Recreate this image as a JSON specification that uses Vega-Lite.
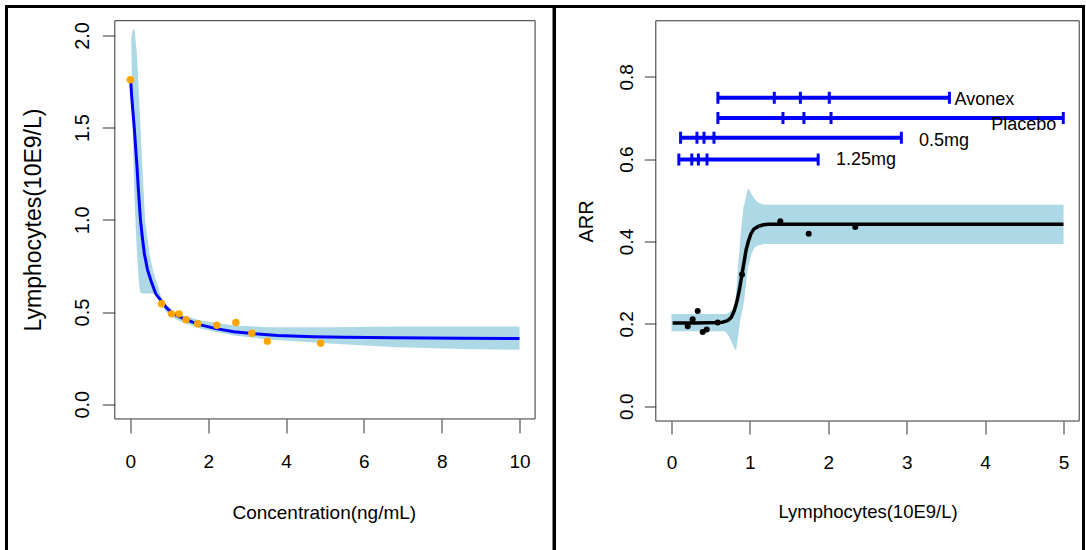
{
  "$schema": "https://vega.github.io/schema/vega-lite/v6.json",
  "padding": {"left": 4.5, "top": 4.5, "right": 0, "bottom": 0},
  "background": "white",
  "datasets": {
    "leftCurve": [
      {"x": 0.01, "y": 1.75}, {"x": 0.03, "y": 1.68}, {"x": 0.06, "y": 1.6}, {"x": 0.1, "y": 1.5},
      {"x": 0.14, "y": 1.38}, {"x": 0.17, "y": 1.29}, {"x": 0.21, "y": 1.15}, {"x": 0.26, "y": 1.0},
      {"x": 0.31, "y": 0.9}, {"x": 0.36, "y": 0.816}, {"x": 0.44, "y": 0.73}, {"x": 0.53, "y": 0.67},
      {"x": 0.65, "y": 0.6}, {"x": 0.79, "y": 0.56}, {"x": 0.92, "y": 0.525}, {"x": 1.05, "y": 0.5},
      {"x": 1.2, "y": 0.48}, {"x": 1.4, "y": 0.462}, {"x": 1.6, "y": 0.445}, {"x": 1.8, "y": 0.43},
      {"x": 2.2, "y": 0.41}, {"x": 2.66, "y": 0.393}, {"x": 3.2, "y": 0.382}, {"x": 3.78, "y": 0.373},
      {"x": 4.71, "y": 0.366}, {"x": 5.5, "y": 0.363}, {"x": 6.77, "y": 0.36}, {"x": 8.5, "y": 0.358},
      {"x": 10, "y": 0.356}
    ],
    "leftBand": [
      {"x": 0.025, "y": 1.95, "y2": 1.99}, {"x": 0.05, "y": 1.6, "y2": 2.02}, {"x": 0.08, "y": 1.3, "y2": 2.035},
      {"x": 0.11, "y": 1.1, "y2": 2.03}, {"x": 0.14, "y": 0.95, "y2": 1.96}, {"x": 0.17, "y": 0.82, "y2": 1.9},
      {"x": 0.21, "y": 0.68, "y2": 1.72}, {"x": 0.25, "y": 0.61, "y2": 1.55}, {"x": 0.3, "y": 0.6, "y2": 1.32},
      {"x": 0.38, "y": 0.6, "y2": 1.0}, {"x": 0.49, "y": 0.6, "y2": 0.816}, {"x": 0.6, "y": 0.6, "y2": 0.71},
      {"x": 0.68, "y": 0.59, "y2": 0.66}, {"x": 0.79, "y": 0.545, "y2": 0.58}, {"x": 0.87, "y": 0.515, "y2": 0.56},
      {"x": 0.96, "y": 0.49, "y2": 0.53}, {"x": 1.13, "y": 0.465, "y2": 0.5}, {"x": 1.38, "y": 0.44, "y2": 0.48},
      {"x": 1.81, "y": 0.409, "y2": 0.454}, {"x": 2.67, "y": 0.373, "y2": 0.427}, {"x": 3.52, "y": 0.351, "y2": 0.418},
      {"x": 5.23, "y": 0.328, "y2": 0.418}, {"x": 6.85, "y": 0.309, "y2": 0.421}, {"x": 8.5, "y": 0.3, "y2": 0.421},
      {"x": 10, "y": 0.295, "y2": 0.421}
    ],
    "leftPts": [
      {"x": 0.0, "y": 1.76}, {"x": 0.8, "y": 0.545}, {"x": 1.06, "y": 0.49}, {"x": 1.25, "y": 0.49},
      {"x": 1.43, "y": 0.458}, {"x": 1.73, "y": 0.436}, {"x": 2.22, "y": 0.428}, {"x": 2.71, "y": 0.443},
      {"x": 3.12, "y": 0.385}, {"x": 3.52, "y": 0.342}, {"x": 4.89, "y": 0.331}
    ],
    "leftBox": [{"x": -0.4, "x2": 10.4, "y": -0.08, "y2": 2.08}],
    "rightCurve": [
      {"x": 0.015, "y": 0.202}, {"x": 0.3, "y": 0.202}, {"x": 0.589, "y": 0.203}, {"x": 0.65, "y": 0.204},
      {"x": 0.717, "y": 0.208}, {"x": 0.76, "y": 0.215}, {"x": 0.801, "y": 0.232}, {"x": 0.835, "y": 0.255},
      {"x": 0.865, "y": 0.281}, {"x": 0.89, "y": 0.31}, {"x": 0.908, "y": 0.33}, {"x": 0.93, "y": 0.355},
      {"x": 0.95, "y": 0.378}, {"x": 0.98, "y": 0.4}, {"x": 1.014, "y": 0.419}, {"x": 1.05, "y": 0.43},
      {"x": 1.1, "y": 0.436}, {"x": 1.16, "y": 0.44}, {"x": 1.227, "y": 0.442}, {"x": 2.0, "y": 0.442},
      {"x": 5.0, "y": 0.442}
    ],
    "rightBand": [
      {"x": 0.0, "y": 0.182, "y2": 0.224}, {"x": 0.674, "y": 0.182, "y2": 0.224}, {"x": 0.717, "y": 0.175, "y2": 0.225},
      {"x": 0.737, "y": 0.168, "y2": 0.228}, {"x": 0.78, "y": 0.15, "y2": 0.235}, {"x": 0.814, "y": 0.137, "y2": 0.249},
      {"x": 0.823, "y": 0.135, "y2": 0.27}, {"x": 0.844, "y": 0.16, "y2": 0.33}, {"x": 0.865, "y": 0.192, "y2": 0.375},
      {"x": 0.878, "y": 0.21, "y2": 0.41}, {"x": 0.92, "y": 0.249, "y2": 0.487}, {"x": 0.929, "y": 0.26, "y2": 0.49},
      {"x": 0.97, "y": 0.33, "y2": 0.525}, {"x": 0.985, "y": 0.345, "y2": 0.528}, {"x": 1.02, "y": 0.37, "y2": 0.515},
      {"x": 1.06, "y": 0.385, "y2": 0.503}, {"x": 1.1, "y": 0.39, "y2": 0.495}, {"x": 1.18, "y": 0.394, "y2": 0.489},
      {"x": 5.0, "y": 0.394, "y2": 0.489}
    ],
    "rightPts": [
      {"x": 0.207, "y": 0.194}, {"x": 0.27, "y": 0.211}, {"x": 0.334, "y": 0.231}, {"x": 0.398, "y": 0.18},
      {"x": 0.449, "y": 0.186}, {"x": 0.589, "y": 0.203}, {"x": 0.9, "y": 0.32}, {"x": 1.388, "y": 0.449},
      {"x": 1.75, "y": 0.419}, {"x": 2.344, "y": 0.435}
    ],
    "rightInt": [
      {"name": "Avonex", "x": 0.592, "x2": 3.545, "y": 0.749},
      {"name": "Placebo", "x": 0.592, "x2": 4.997, "y": 0.7},
      {"name": "0.5mg", "x": 0.116, "x2": 2.932, "y": 0.652},
      {"name": "1.25mg", "x": 0.094, "x2": 1.871, "y": 0.599}
    ],
    "rightTicks": [
      {"x": 0.592, "y": 0.749}, {"x": 1.311, "y": 0.749}, {"x": 1.644, "y": 0.749}, {"x": 2.013, "y": 0.749}, {"x": 3.545, "y": 0.749},
      {"x": 0.592, "y": 0.7}, {"x": 1.422, "y": 0.7}, {"x": 1.689, "y": 0.7}, {"x": 2.035, "y": 0.7}, {"x": 4.997, "y": 0.7},
      {"x": 0.116, "y": 0.652}, {"x": 0.325, "y": 0.652}, {"x": 0.415, "y": 0.652}, {"x": 0.542, "y": 0.652}, {"x": 2.932, "y": 0.652},
      {"x": 0.094, "y": 0.599}, {"x": 0.259, "y": 0.599}, {"x": 0.343, "y": 0.599}, {"x": 0.453, "y": 0.599}, {"x": 1.871, "y": 0.599}
    ],
    "rightLabels": [
      {"label": "Avonex", "x": 3.611, "y": 0.744, "side": "left"},
      {"label": "Placebo", "x": 4.908, "y": 0.682, "side": "right"},
      {"label": "0.5mg", "x": 3.158, "y": 0.645, "side": "left"},
      {"label": "1.25mg", "x": 2.097, "y": 0.599, "side": "left"}
    ],
    "rightBox": [{"x": -0.2, "x2": 5.2, "y": -0.036, "y2": 0.936}]
  },
  "hconcat": [
    {
      "width": 547.5,
      "height": 550,
      "encoding": {
        "x": {"field": "x", "type": "quantitative",
          "scale": {"domain": [-3.183, 10.886], "nice": false, "zero": false},
          "axis": {"orient": "bottom", "offset": -137.6, "values": [0, 2, 4, 6, 8, 10], "tickSize": 14,
            "labelPadding": 19.5, "labelFontSize": 19, "labelFlush": false, "labelOverlap": false,
            "title": "Concentration(ng/mL)", "titleFontSize": 19, "titleX": 317.3, "titleY": 99.5,
            "titleBaseline": "alphabetic", "titleAlign": "center"}},
        "y": {"field": "y", "type": "quantitative",
          "scale": {"domain": [-0.826, 2.157], "nice": false, "zero": false},
          "axis": {"orient": "left", "offset": -108.3, "values": [0, 0.5, 1, 1.5, 2], "format": ".1f", "tickSize": 12.5,
            "labelPadding": 13.4, "labelFontSize": 20, "labelAngle": -90, "labelAlign": "center", "labelBaseline": "alphabetic",
            "labelFlush": false, "labelOverlap": false,
            "title": "Lymphocytes(10E9/L)", "titleFontSize": 23, "titleAngle": -90, "titleX": -74.3, "titleY": 213,
            "titleBaseline": "alphabetic", "titleAlign": "center"}}
      },
      "layer": [
        {"data": {"name": "leftBand"}, "mark": {"type": "area", "color": "#ADD8E6", "opacity": 1},
          "encoding": {"y2": {"field": "y2"}}},
        {"data": {"name": "leftCurve"}, "mark": {"type": "line", "color": "#0000FF", "strokeWidth": 3}},
        {"data": {"name": "leftPts"}, "mark": {"type": "circle", "color": "#FFA500", "size": 55, "opacity": 1}},
        {"data": {"name": "leftBox"}, "mark": {"type": "rect", "filled": false, "color": "#333", "strokeWidth": 1, "opacity": 1},
          "encoding": {"x2": {"field": "x2"}, "y2": {"field": "y2"}}}
      ]
    },
    {
      "width": 529,
      "height": 550,
      "encoding": {
        "x": {"field": "x", "type": "quantitative",
          "scale": {"domain": [-1.492, 5.255], "nice": false, "zero": false},
          "axis": {"orient": "bottom", "offset": -135.5, "values": [0, 1, 2, 3, 4, 5], "tickSize": 13,
            "labelPadding": 19, "labelFontSize": 19, "labelFlush": false, "labelOverlap": false,
            "title": "Lymphocytes(10E9/L)", "titleFontSize": 18.5, "titleX": 313, "titleY": 96.2,
            "titleBaseline": "alphabetic", "titleAlign": "center"}},
        "y": {"field": "y", "type": "quantitative",
          "scale": {"domain": [-0.365, 0.9707], "nice": false, "zero": false},
          "axis": {"orient": "left", "offset": -101.3, "values": [0, 0.2, 0.4, 0.6, 0.8], "format": ".1f", "tickSize": 11.5,
            "labelPadding": 11.6, "labelFontSize": 19, "labelAngle": -90, "labelAlign": "center", "labelBaseline": "alphabetic",
            "labelFlush": false, "labelOverlap": false,
            "title": "ARR", "titleFontSize": 20, "titleAngle": -90, "titleX": -63.1, "titleY": 214.4,
            "titleBaseline": "alphabetic", "titleAlign": "center"}}
      },
      "layer": [
        {"data": {"name": "rightBand"}, "mark": {"type": "area", "color": "#ADD8E6", "opacity": 1},
          "encoding": {"y2": {"field": "y2"}}},
        {"data": {"name": "rightCurve"}, "mark": {"type": "line", "color": "#000000", "strokeWidth": 3.5}},
        {"data": {"name": "rightPts"}, "mark": {"type": "circle", "color": "#000000", "size": 36, "opacity": 1}},
        {"data": {"name": "rightInt"}, "mark": {"type": "rule", "color": "#0000FF", "strokeWidth": 4},
          "encoding": {"x2": {"field": "x2"}}},
        {"data": {"name": "rightTicks"}, "mark": {"type": "tick", "orient": "vertical", "color": "#0000FF", "size": 12, "thickness": 3, "opacity": 1}},
        {"data": {"name": "rightLabels"}, "transform": [{"filter": "datum.side === 'left'"}],
          "mark": {"type": "text", "align": "left", "baseline": "middle", "fontSize": 18, "color": "#000"},
          "encoding": {"text": {"field": "label"}}},
        {"data": {"name": "rightLabels"}, "transform": [{"filter": "datum.side === 'right'"}],
          "mark": {"type": "text", "align": "right", "baseline": "middle", "fontSize": 18, "color": "#000"},
          "encoding": {"text": {"field": "label"}}},
        {"data": {"name": "rightBox"}, "mark": {"type": "rect", "filled": false, "color": "#333", "strokeWidth": 1, "opacity": 1},
          "encoding": {"x2": {"field": "x2"}, "y2": {"field": "y2"}}}
      ]
    }
  ],
  "spacing": 0,
  "bounds": "flush",
  "config": {
    "font": "Liberation Sans",
    "view": {"stroke": "#000", "strokeWidth": 3},
    "axis": {"domain": false, "grid": false, "labelColor": "#000", "titleColor": "#000", "tickColor": "#333",
      "titleFontWeight": "normal", "labelFont": "Liberation Sans", "titleFont": "Liberation Sans"}
  }
}
